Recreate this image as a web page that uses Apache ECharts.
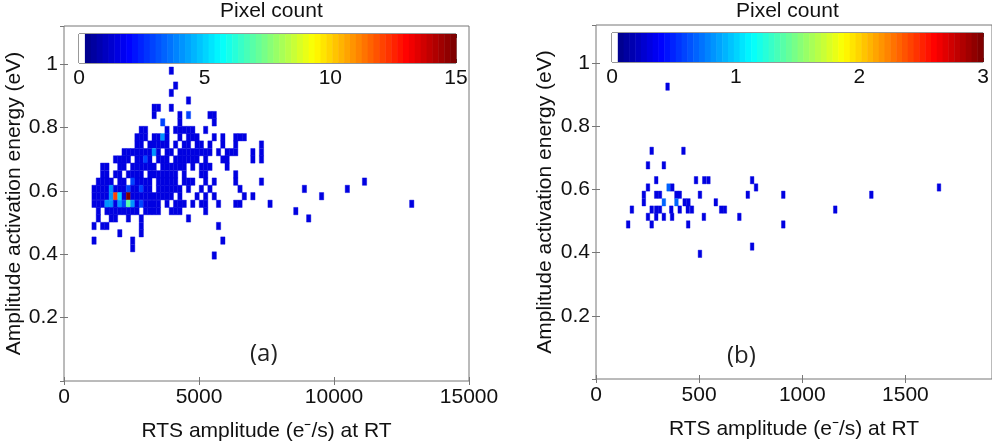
<!DOCTYPE html>
<html><head><meta charset="utf-8">
<script src="https://cdn.jsdelivr.net/npm/echarts@6/dist/echarts.min.js"></script>
<style>html,body{margin:0;padding:0;background:#fff}#c{width:992px;height:447px}</style>
</head><body><div id="c"></div>
<script>
// ================= DATA =================
// Panel (a): x axis 0..15000, colour scale 0..15
const aColorTicks = [0, 5, 10, 15];
const aRowY = [0.979, 0.932, 0.909, 0.885, 0.862, 0.839, 0.816, 0.792, 0.769, 0.746, 0.722, 0.699, 0.676, 0.652, 0.629, 0.606, 0.583, 0.559, 0.536, 0.513, 0.489, 0.466, 0.443, 0.419, 0.396];
const aRowX = [
  [3975],
  [4134],
  [3975],
  [4611],
  [3339, 3498, 3975],
  [3339, 4293, 4611, 5406, 5565],
  [3657, 4293, 5565],
  [2862, 3021, 3816, 4134, 4293, 4452, 4611, 4770, 5247],
  [2703, 2862, 3021, 3339, 3498, 3657, 3816, 4293, 4611, 4770, 4929, 5565, 5883, 6360, 6519, 6678],
  [2703, 2862, 3180, 3339, 3498, 3657, 3816, 4134, 4452, 4611, 4929, 5088, 5406, 5883, 6360, 7314],
  [2226, 2385, 2544, 2703, 2862, 3021, 3180, 3339, 3498, 3816, 3975, 4293, 4452, 4611, 4770, 4929, 5088, 5247, 5406, 5724, 6042, 6201, 6360, 6996, 7314],
  [1908, 2067, 2226, 2385, 2703, 2862, 3021, 3180, 3498, 3657, 3816, 4134, 4293, 4452, 4611, 4770, 4929, 5247, 5883, 6042, 6996, 7314],
  [1431, 1590, 2067, 2226, 2544, 2703, 2862, 3021, 3180, 3339, 3657, 3816, 3975, 4134, 4293, 4452, 4770, 5088, 5247, 5406, 6042],
  [1431, 1590, 1908, 2067, 2385, 2544, 2703, 2862, 3180, 3339, 3498, 3657, 3816, 3975, 4134, 4452, 5088, 5247, 6360],
  [1272, 1431, 1590, 1749, 2067, 2226, 2544, 2703, 2862, 3021, 3180, 3498, 3657, 3816, 3975, 4134, 4452, 4611, 4770, 5247, 5565, 6360, 7314, 11130],
  [1113, 1272, 1431, 1590, 1749, 1908, 2067, 2226, 2385, 2544, 2703, 2862, 3021, 3180, 3498, 3657, 3816, 3975, 4134, 4293, 4611, 5088, 5406, 6519, 8904, 10494],
  [1113, 1272, 1431, 1590, 1749, 1908, 2067, 2226, 2385, 2544, 2703, 2862, 3021, 3180, 3339, 3498, 3657, 3816, 3975, 4293, 4929, 5247, 5565, 6678, 6996, 9540],
  [1113, 1272, 1431, 1590, 1749, 1908, 2067, 2226, 2385, 2544, 2703, 2862, 3021, 3180, 3339, 3498, 3816, 4134, 4293, 4452, 4770, 5088, 5247, 5724, 6360, 6519, 7632, 12879],
  [1272, 1590, 1749, 1908, 2067, 2226, 2385, 2544, 2703, 3021, 3180, 3339, 3498, 3975, 4134, 4293, 5247, 8586],
  [1272, 1749, 1908, 2385, 2862, 4611, 9063],
  [1113, 1431, 1590, 2862, 5724],
  [2067, 2862],
  [1113, 2544, 5883],
  [2544],
  [5565]
];
const aBase = 1.5;   // colour for the plain blue cells
// brighter cells [x, y]
const aHot = [
  [1908, 0.583, 12], [2385, 0.583, 15], [2067, 0.583, 5], [1749, 0.583, 4],
  [1749, 0.606, 4], [2385, 0.559, 7], [1590, 0.559, 4], [1749, 0.559, 4],
  [2067, 0.559, 4], [2226, 0.559, 3], [2544, 0.559, 4], [2862, 0.559, 3],
  [2862, 0.606, 3], [2544, 0.629, 3], [3339, 0.722, 4], [3021, 0.699, 3],
  [4611, 0.839, 3], [3657, 0.816, 3], [3657, 0.769, 4], [2385, 0.606, 3]
];

// Panel (b): x axis 0..~1900, colour scale 0..3
const bColorTicks = [0, 1, 2, 3];
const bRowY = [0.925, 0.722, 0.676, 0.629, 0.606, 0.583, 0.559, 0.536, 0.513, 0.489, 0.419, 0.396];
const bRowX = [
  [347],
  [270, 424],
  [252, 329],
  [292, 485, 525, 545, 757],
  [252, 352, 370, 776, 1663],
  [232, 292, 310, 390, 406, 504, 736, 908, 1335],
  [232, 329, 390, 430, 448, 581],
  [174, 270, 292, 310, 365, 406, 445, 465, 607, 625, 1160],
  [252, 292, 329, 369, 523, 695],
  [156, 270, 447, 908],
  [757],
  [504]
];
const bBase = 0.3;   // colour read for the plain blue cells
const bHot = [[352, 0.606, 0.7], [329, 0.559, 0.7], [390, 0.559, 0.7]];

// ================= BUILD =================
function buildCells(rowY, rowX, hot, base) {
  const out = [];
  rowY.forEach((y, r) => rowX[r].forEach(x => {
    const h = hot.find(e => e[0] === x && Math.abs(e[1] - y) < 1e-6);
    out.push([x, y, h ? h[2] : base]);
  }));
  return out;
}
const cellsA = buildCells(aRowY, aRowX, aHot, aBase);
const cellsB = buildCells(bRowY, bRowX, bHot, bBase);

function clamp(v) { return Math.max(0, Math.min(1, v)); }
function jet(k) { // MATLAB jet(64), k = 1..64, first entry white
  if (k <= 1) return '#ffffff';
  const t = (k - 1) / 63;
  const r = clamp(Math.min(4 * t - 1.5, -4 * t + 4.5));
  const g = clamp(Math.min(4 * t - 0.5, -4 * t + 3.5));
  const b = clamp(Math.min(4 * t + 0.5, -4 * t + 2.5));
  return 'rgb(' + Math.round(r * 255) + ',' + Math.round(g * 255) + ',' + Math.round(b * 255) + ')';
}
function colorFor(v, cmax) {
  const k = Math.min(64, Math.floor(v / cmax * 64) + 1);
  return jet(k);
}

const FONT = "'Liberation Sans', Arial, Helvetica, sans-serif";
const AX = '#777';
const CELL_H = 0.0233;

function cellSeries(data, xi, yi, w, cmax) {
  return {
    type: 'custom', xAxisIndex: xi, yAxisIndex: yi, data: data, z: 2,
    renderItem: function (params, api) {
      const x = api.value(0), y = api.value(1), v = api.value(2);
      const p1 = api.coord([x - w / 2, y + CELL_H / 2]);
      const p2 = api.coord([x + w / 2, y - CELL_H / 2]);
      const c = colorFor(v, cmax);
      return { type: 'rect', shape: { x: p1[0], y: p1[1], width: p2[0] - p1[0], height: p2[1] - p1[1] },
               style: { fill: c, stroke: c, lineWidth: 0.4 } };
    }
  };
}
function colorbarSeries(xi, yi, cmax) {
  const segs = [];
  for (let k = 1; k <= 64; k++) segs.push([k]);
  return {
    type: 'custom', xAxisIndex: xi, yAxisIndex: yi, data: segs, z: 5,
    renderItem: function (params, api) {
      const k = api.value(0);
      const p1 = api.coord([(k - 1) * cmax / 64, 1]);
      const p2 = api.coord([k * cmax / 64, 0]);
      const c = jet(k);
      return { type: 'rect', shape: { x: p1[0], y: p1[1], width: p2[0] - p1[0] + 0.5, height: p2[1] - p1[1] },
               style: { fill: c } };
    }
  };
}

const labelStyle = { fontFamily: FONT, fontSize: 21, color: '#111' };
const plain = v => String(v);
function xMain(grid, max, interval, name, gap, showMax) {
  return [{
    gridIndex: grid, type: 'value', min: 0, max: max, interval: interval, position: 'bottom',
    axisLine: { show: false }, splitLine: { show: false },
    axisTick: { show: true, inside: true, length: 4, lineStyle: { color: AX } },
    axisLabel: Object.assign({ margin: 6, showMaxLabel: showMax, hideOverlap: false, formatter: plain }, labelStyle),
    name: name, nameLocation: 'middle', nameGap: gap, nameTextStyle: labelStyle
  }, {
    gridIndex: grid, type: 'value', min: 0, max: max, interval: interval, position: 'top',
    axisLine: { show: false }, splitLine: { show: false }, axisLabel: { show: false },
    axisTick: { show: true, inside: true, length: 4, lineStyle: { color: AX } }
  }];
}
function yMain(grid, gap) {
  return [{
    gridIndex: grid, type: 'value', min: 0, max: 1.12, interval: 0.2, position: 'left',
    axisLine: { show: false }, splitLine: { show: false },
    axisTick: { show: true, inside: true, length: 4, lineStyle: { color: AX } },
    axisLabel: Object.assign({ margin: 6, showMaxLabel: false, showMinLabel: false,
      formatter: v => (v === 0 ? '' : String(v)) }, labelStyle),
    name: 'Amplitude activation energy (eV)', nameLocation: 'middle', nameGap: gap, nameRotate: 90,
    nameTextStyle: labelStyle
  }, {
    gridIndex: grid, type: 'value', min: 0, max: 1.12, interval: 0.2, position: 'right',
    axisLine: { show: false }, splitLine: { show: false }, axisLabel: { show: false },
    axisTick: { show: true, inside: true, length: 4, lineStyle: { color: AX } }
  }];
}
function xBar(grid, ticks) {
  const max = ticks[ticks.length - 1], interval = ticks[1] - ticks[0];
  return [{
    gridIndex: grid, type: 'value', min: 0, max: max, interval: interval, position: 'bottom',
    axisLine: { show: false }, splitLine: { show: false },
    axisTick: { show: true, inside: true, length: 4, lineStyle: { color: '#333' } },
    axisLabel: Object.assign({ margin: 5, formatter: plain }, labelStyle)
  }, {
    gridIndex: grid, type: 'value', min: 0, max: max, interval: interval, position: 'top',
    axisLine: { show: false }, splitLine: { show: false }, axisLabel: { show: false },
    axisTick: { show: true, inside: true, length: 4, lineStyle: { color: '#333' } }
  }];
}
function yBar(grid) {
  return { gridIndex: grid, type: 'value', min: 0, max: 1, show: false };
}

const chart = echarts.init(document.getElementById('c'), null, { renderer: 'canvas' });
chart.setOption({
  backgroundColor: '#ffffff',
  animation: false,
  grid: [
    { left: 64, top: 26, width: 405, height: 355, show: true, borderColor: AX, borderWidth: 1, backgroundColor: 'transparent' },
    { left: 596, top: 25, width: 405, height: 354, show: true, borderColor: AX, borderWidth: 1, backgroundColor: 'transparent' },
    { left: 79, top: 34, width: 377, height: 29, show: true, borderColor: '#333', borderWidth: 1, z: 4 },
    { left: 612, top: 33, width: 373, height: 29, show: true, borderColor: '#333', borderWidth: 1, z: 4 }
  ],
  xAxis: [].concat(
    xMain(0, 15000, 5000, 'RTS amplitude (e\u207B/s) at RT', 40, true),
    xMain(1, 1920, 500, 'RTS amplitude (e\u207B/s) at RT', 40, false),
    xBar(2, aColorTicks),
    xBar(3, bColorTicks)
  ),
  yAxis: [].concat(yMain(0, 34), yMain(1, 40), [yBar(2), yBar(3)]),
  series: [
    cellSeries(cellsA, 0, 0, 159, 15),
    cellSeries(cellsB, 2, 2, 17.5, 3),
    colorbarSeries(4, 4, 15),
    colorbarSeries(6, 5, 3)
  ],
  graphic: [
    { type: 'text', left: 220, top: 1, style: { text: 'Pixel count', font: "21px " + FONT, fill: '#111' } },
    { type: 'text', left: 736, top: 1, style: { text: 'Pixel count', font: "21px " + FONT, fill: '#111' } },
    { type: 'text', left: 250, top: 342, style: { text: '(a)', font: "24px 'Open Sans', Lato, sans-serif", fill: '#222' } },
    { type: 'text', left: 727, top: 344, style: { text: '(b)', font: "24px 'Open Sans', Lato, sans-serif", fill: '#222' } }
  ]
});
</script></body></html>
